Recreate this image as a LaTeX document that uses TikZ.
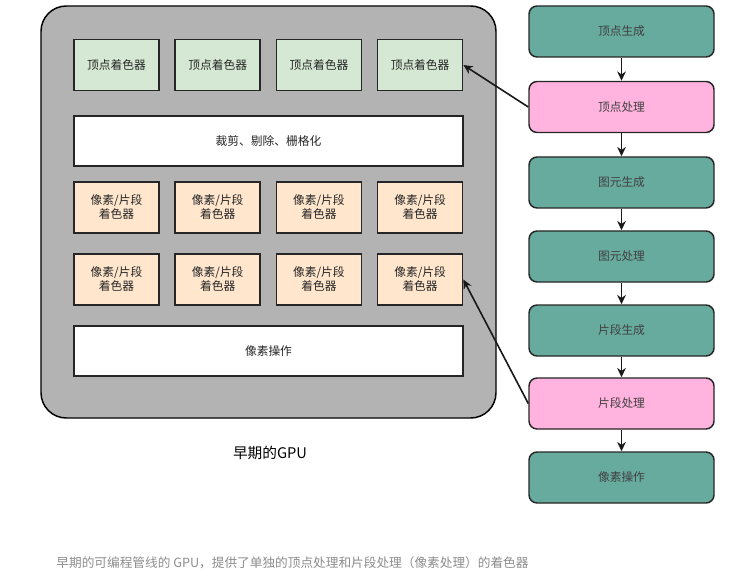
\documentclass[tikz,border=0pt]{standalone}
\usepackage{fontspec}
\setmainfont{Noto Sans CJK SC}
\usepackage{tikz}
\usetikzlibrary{arrows.meta}

\definecolor{gpugray}{HTML}{B3B3B3}
\definecolor{vsgreen}{HTML}{D5E8D4}
\definecolor{fsorange}{HTML}{FFE6CC}
\definecolor{stageteal}{HTML}{67AB9F}
\definecolor{stagepink}{HTML}{FFB3DE}
\definecolor{capgray}{HTML}{8C8C8C}

\tikzset{
  unit/.style={draw=black!85, line width=1.1pt, inner sep=0pt, align=center,
    minimum width=63.75pt, minimum height=38.25pt,
    font=\fontsize{8.8}{10.5}\selectfont, text=black!85},
  wideunit/.style={unit, fill=white, minimum width=291.75pt, minimum height=37.5pt},
  stage/.style={unit, rounded corners=6pt, minimum width=138.75pt, text=black!75},
  flow/.style={-{Stealth[length=7pt,width=6.5pt]}, line width=1.2pt, black!90},
}

\begin{document}
\begin{tikzpicture}[x=0.75pt,y=-0.75pt]
  \useasboundingbox (0,0) rectangle (738,577);
  \draw[fill=gpugray, line width=1.1pt, rounded corners=19pt] (41,6) rectangle (496,418);
  \foreach \i in {1,...,4} {
    \node[unit, fill=vsgreen] (vs\i) at (116.5+101.2*\i-101.2,65) {顶点着色器};
    \node[unit, fill=fsorange] (fsa\i) at (116.5+101.2*\i-101.2,207.5) {像素/片段\\着色器};
    \node[unit, fill=fsorange] (fsb\i) at (116.5+101.2*\i-101.2,279.5) {像素/片段\\着色器};
  }
  \node[wideunit] (clip) at (268.5,141) {裁剪、剔除、栅格化};
  \node[wideunit] (pixops) at (268.5,351) {像素操作};
  \node[font=\fontsize{11}{13}\selectfont] (gpulabel) at (270,453) {早期的GPU};

  % fixed-function pipeline on the right
  \node[stage, fill=stageteal] (vgen) at (621.5,31.5) {顶点生成};
  \node[stage, fill=stagepink] (vproc) at (621.5,107) {顶点处理};
  \node[stage, fill=stageteal] (pgen) at (621.5,182.5) {图元生成};
  \node[stage, fill=stageteal] (pproc) at (621.5,256.5) {图元处理};
  \node[stage, fill=stageteal] (fgen) at (621.5,330.5) {片段生成};
  \node[stage, fill=stagepink] (fproc) at (621.5,403.5) {片段处理};
  \node[stage, fill=stageteal] (pxop) at (621.5,477.5) {像素操作};
  \foreach \a/\b in {vgen/vproc,vproc/pgen,pgen/pproc,pproc/fgen,fgen/fproc,fproc/pxop}
    \draw[flow] (\a) -- (\b);
  \draw[flow] (vproc.west) -- (vs4.east);
  \draw[flow] (fproc.west) -- (fsb4.east);

  \node[font=\fontsize{9.5}{12}\selectfont, text=capgray] (caption) at (292.5,563)
    {早期的可编程管线的 GPU，提供了单独的顶点处理和片段处理（像素处理）的着色器};
\end{tikzpicture}
\end{document}
